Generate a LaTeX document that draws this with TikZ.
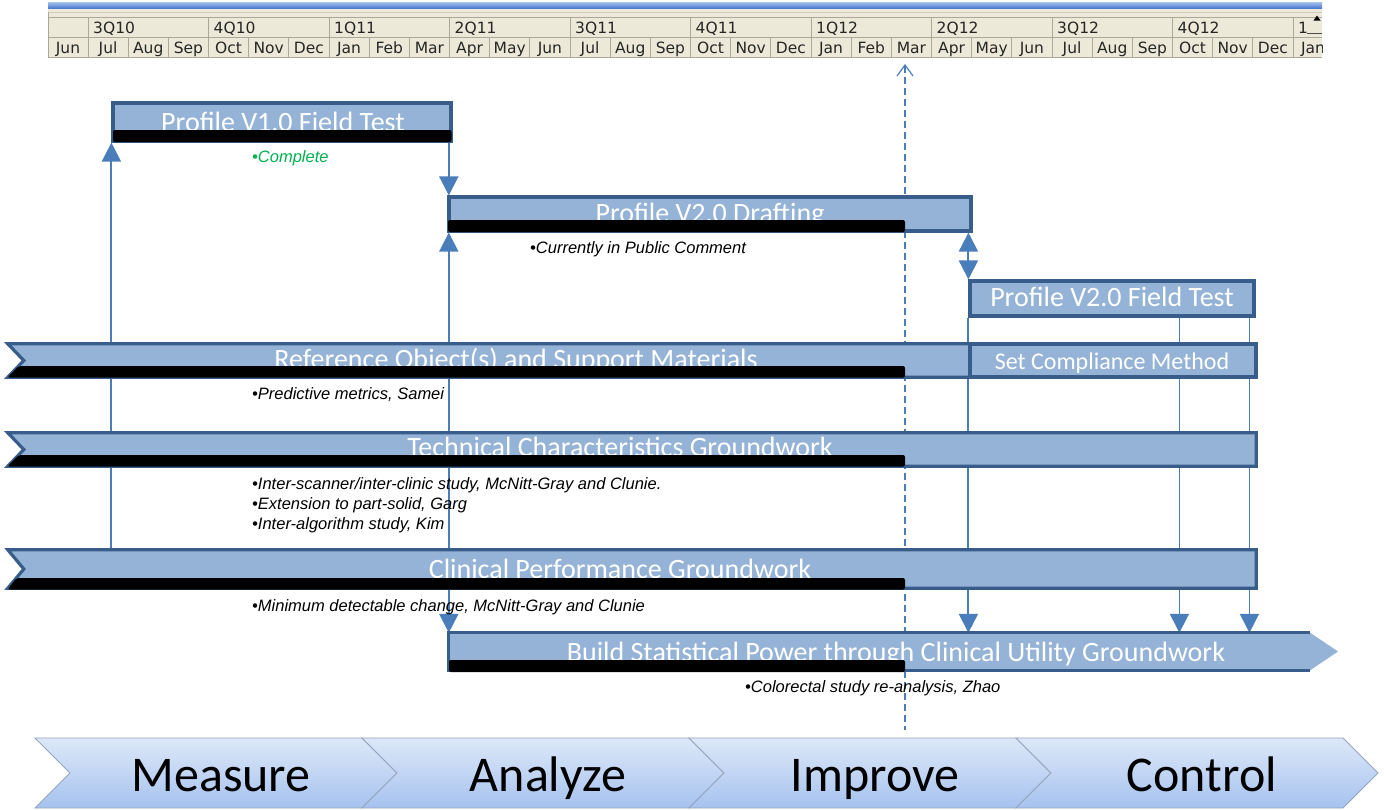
\documentclass[tikz,border=0pt]{standalone}
\usepackage{fontspec}
\setmainfont{Carlito}
\newfontfamily\arialf{Liberation Sans}
\newfontfamily\hdrf{DejaVu Sans}
\usetikzlibrary{arrows.meta,backgrounds,calc}
\definecolor{barfill}{HTML}{95B3D7}
\definecolor{barline}{HTML}{385D8A}
\definecolor{conn}{HTML}{4A7EBB}
\definecolor{hdrbg}{HTML}{ECE9D8}
\definecolor{hdrline}{HTML}{ACA899}
\definecolor{hdrblueA}{HTML}{A9C2EE}
\definecolor{hdrblueB}{HTML}{4676CF}
\definecolor{donegreen}{HTML}{00B050}
\definecolor{chevtop}{HTML}{DDE8F8}
\definecolor{chevbot}{HTML}{A6C2EF}
\definecolor{chevline}{HTML}{95A5BD}
\begin{document}
\begin{tikzpicture}[x=1pt,y=-1pt,
  bar/.style={draw=barline, line width=3.2pt, fill=barfill, inner sep=0pt},
  ghost/.style={draw=none, fill=none, inner sep=0pt},
  bartext/.style={anchor=base, text=white, inner sep=0pt, font=\fontsize{28}{28}\selectfont},
  note/.style={anchor=base west, inner sep=0pt, font=\arialf\itshape\fontsize{16.5}{16.5}\selectfont},
  blackbar/.style={fill=black, rounded corners=2pt},
  link/.style={draw=conn, line width=2pt},
  thinlink/.style={draw=conn, line width=1.6pt},
  tipd/.style={-{Triangle[width=19pt,length=19pt]}},
  tipb/.style={{Triangle[width=19pt,length=19pt]}-{Triangle[width=19pt,length=19pt]}},
  hdr/.style={inner sep=0pt, text=black!85, font=\hdrf\fontsize{15.5}{15.5}\selectfont},
  chevtext/.style={anchor=base, inner sep=0pt, font=\fontsize{50}{50}\selectfont},
  chev/.style={top color=chevtop, bottom color=chevbot, draw=chevline, line width=0.8pt}
]
\useasboundingbox (0,0) rectangle (1384,809);

% ---------------- header (timeline) ----------------
\begin{scope}
\clip (48,2) rectangle (1322,58);
\shade[top color=hdrblueA, bottom color=hdrblueB] (48,2) rectangle (1322,8.5);
\fill[hdrbg] (48,8.5) rectangle (1322,57);
\draw[hdrline!60, line width=0.8pt] (48,12) -- (1322,12);
\draw[hdrline, line width=0.9pt] (48,17) -- (1322,17);
\draw[hdrline, line width=0.9pt] (48,37) -- (1322,37);
\draw[hdrline, line width=0.9pt] (48,57) -- (1322,57);
\draw[hdrline, line width=0.9pt] (48.5,12) -- (48.5,57);
\foreach \k in {0,...,10} \draw[hdrline, line width=0.9pt] (88+120.5*\k,17) -- (88+120.5*\k,37);
\foreach \j in {0,...,30} \draw[hdrline, line width=0.9pt] (88+40.1667*\j,37) -- (88+40.1667*\j,57);
\foreach \q [count=\k from 0] in {3Q10,4Q10,1Q11,2Q11,3Q11,4Q11,1Q12,2Q12,3Q12,4Q12,1}
  \node[hdr, anchor=base west] (q\k) at (88+120.5*\k+5,33) {\q};
\node[hdr, anchor=base] (mjun) at (68,53) {Jun};
\foreach \m [count=\j from 0] in {Jul,Aug,Sep,Oct,Nov,Dec,Jan,Feb,Mar,Apr,May,Jun,Jul,Aug,Sep,Oct,Nov,Dec,Jan,Feb,Mar,Apr,May,Jun,Jul,Aug,Sep,Oct,Nov,Dec,Jan}
  \node[hdr, anchor=base] (m\j) at (88+40.1667*\j+20.08,53) {\m};
\fill[black] (1317,15.5) -- (1320.5,20.5) -- (1313.5,20.5) -- cycle;
\draw[black!70, line width=0.8pt] (1307,33) -- (1322,33);
\end{scope}

% ---------------- bars ----------------
\node[bar, minimum width=338pt, minimum height=38pt] (bar1) at (282,122) {};
\node[bartext] (t1) at (283,131) {Profile V1.0 Field Test};
\fill[blackbar] (113,130) rectangle (451.5,142);

\node[bar, minimum width=522pt, minimum height=34pt] (bar2) at (710,214) {};
\node[bartext] (t2) at (710,222) {Profile V2.0 Drafting};
\fill[blackbar] (448,220) rectangle (905,232);

\node[bar, minimum width=284pt, minimum height=35pt] (bar3) at (1112,298.5) {};
\node[bartext] (t3) at (1112,306) {Profile V2.0 Field Test};

% Reference objects (notched)
\node[ghost, minimum width=1248pt, minimum height=33pt] (b4) at (632,360.5) {};
\path[fill=barfill, draw=barline, line width=3.2pt] (b4.north west) -- (b4.north east) -- (b4.south east) -- (b4.south west) -- ($(b4.west)+(16,0)$) -- cycle;
\node[bartext] (t4) at (516,368) {Reference Object(s) and Support Materials};
\fill[blackbar] (18.7,366) -- (905,366) -- (905,377.5) -- (7.5,377.5) -- cycle;
\node[bar, minimum width=286pt, minimum height=33pt] (setc) at (1113,360.5) {};
\node[bartext, font=\fontsize{24}{24}\selectfont] (t4b) at (1112,369) {Set Compliance Method};

% Technical characteristics
\node[ghost, minimum width=1248pt, minimum height=33pt] (b5) at (632,449.5) {};
\path[fill=barfill, draw=barline, line width=3.2pt] (b5.north west) -- (b5.north east) -- (b5.south east) -- (b5.south west) -- ($(b5.west)+(16,0)$) -- cycle;
\node[bartext] (t5) at (620,456) {Technical Characteristics Groundwork};
\fill[blackbar] (18.7,455) -- (905,455) -- (905,466.5) -- (7.5,466.5) -- cycle;

% Clinical performance
\node[ghost, minimum width=1248pt, minimum height=38pt] (b6) at (632,569) {};
\path[fill=barfill, draw=barline, line width=3.2pt] (b6.north west) -- (b6.north east) -- (b6.south east) -- (b6.south west) -- ($(b6.west)+(16,0)$) -- cycle;
\node[bartext] (t6) at (620,578) {Clinical Performance Groundwork};
\fill[blackbar] (16.4,578) -- (905,578) -- (905,589.5) -- (7.5,589.5) -- cycle;

% Build statistical power (arrow)
\node[ghost, minimum width=861pt, minimum height=37pt] (bar7) at (879.5,651.5) {};
\fill[barfill] (bar7.north west) -- (bar7.north east) -- (1338,651.5) -- (bar7.south east) -- (bar7.south west) -- cycle;
\draw[barline, line width=3.2pt] (bar7.north east) -- (bar7.north west) -- (bar7.south west) -- (bar7.south east);
\node[bartext] (t7) at (896,661) {Build Statistical Power through Clinical Utility Groundwork};
\fill[blackbar] (449,660) rectangle (905,672);

% ---------------- notes ----------------
\node[note, text=donegreen] (n1) at (252,162) {•Complete};
\node[note] (n2) at (530,253) {•Currently in Public Comment};
\node[note] (n3) at (252,399) {•Predictive metrics, Samei};
\node[note] (n4) at (252,489) {•Inter-scanner/inter-clinic study, McNitt-Gray and Clunie.};
\node[note] (n5) at (252,509) {•Extension to part-solid, Garg};
\node[note] (n6) at (252,529) {•Inter-algorithm study, Kim};
\node[note] (n7) at (252,611) {•Minimum detectable change, McNitt-Gray and Clunie};
\node[note] (n8) at (745,692) {•Colorectal study re-analysis, Zhao};

% ---------------- phases ----------------
\foreach \L/\nm/\txt in {35/measure/Measure,362/analyze/Analyze,689/improve/Improve,1016/control/Control}{
  \shadedraw[chev] (\L,738) -- ++(327,0) -- ++(35,35) -- ++(-35,35) -- ++(-327,0) -- ++(35,-35) -- cycle;
  \node[chevtext] (\nm) at (\L+186,791) {\txt};
}

% ---------------- connectors (behind the bars) ----------------
\coordinate (nowtop) at (905,64);
\coordinate (nowbot) at (905,730);
\begin{pgfonlayer}{background}
\fill[white] (0,0) rectangle (1384,809);
\draw[conn, line width=1.2pt, dash pattern=on 7pt off 4pt, {Straight Barb[width=16pt,length=11pt,line width=1.2pt]}-] (nowtop) -- (nowbot);
\draw[link, tipd] (b6.north -| bar1.south west) -- (bar1.south west);
\draw[link, tipd] (bar1.south -| bar7.north west) -- (bar2.north -| bar7.north west);
\draw[link, tipb] (bar2.south -| bar7.north west) -- (bar7.north west);
\draw[link, tipb] (bar3.north west |- bar2.south) -- (bar3.north west);
\draw[link, tipd] (bar3.south west) -- (bar3.south west |- bar7.north);
\draw[thinlink, tipd] ($(bar3.south west)+(211,0)$) -- ($(bar3.south west |- bar7.north)+(211,0)$);
\draw[thinlink, tipd] ($(bar3.south west)+(281,0)$) -- ($(bar3.south west |- bar7.north)+(281,0)$);
\end{pgfonlayer}
\end{tikzpicture}
\end{document}
